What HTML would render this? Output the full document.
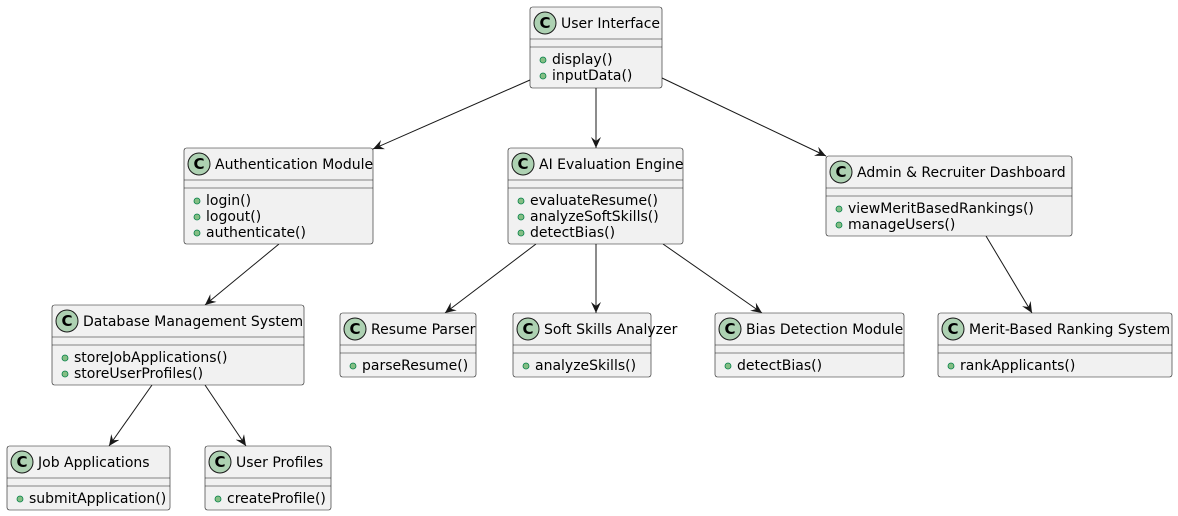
<!DOCTYPE html>
<html><head><meta charset="utf-8"><style>body{margin:0;background:#fff}svg{display:block}text{font-family:"DejaVu Sans","Liberation Sans",sans-serif;font-size:14px;fill:#000}.b{fill:#F1F1F1;stroke:#181818;stroke-width:0.6}.l{stroke:#181818;stroke-width:0.6}.c{fill:#ADD1B2;stroke:#181818;stroke-width:1}.d{fill:#84BE84;stroke:#038048;stroke-width:0.8}.k{font-weight:bold;font-size:15px;text-anchor:middle}</style></head><body>
<svg width="1178" height="516" viewBox="0 0 1178 516" xmlns="http://www.w3.org/2000/svg">
<defs><marker id="a" viewBox="0 0 12 10" refX="11" refY="5" markerWidth="12" markerHeight="10" markerUnits="userSpaceOnUse" orient="auto"><path d="M0,0 L11,5 L0,10 L4,5 Z" fill="#181818"/></marker></defs>
<g stroke="#181818" stroke-width="1" marker-end="url(#a)">
<line x1="530" y1="80" x2="373" y2="149"/>
<line x1="596" y1="88" x2="596" y2="148"/>
<line x1="662" y1="78" x2="826" y2="156"/>
<line x1="279" y1="244" x2="205" y2="305"/>
<line x1="536" y1="244" x2="445" y2="313"/>
<line x1="596" y1="244" x2="596" y2="313"/>
<line x1="663" y1="244" x2="762" y2="313"/>
<line x1="986" y1="236" x2="1032" y2="313"/>
<line x1="152" y1="385" x2="109" y2="446"/>
<line x1="205" y1="385" x2="246" y2="446"/>
</g>

<!-- User Interface -->
<rect class="b" x="530" y="7" width="132" height="81" rx="2.5"/>
<line class="l" x1="530" y1="39" x2="662" y2="39"/><line class="l" x1="530" y1="47" x2="662" y2="47"/>
<circle class="c" cx="545" cy="23" r="11"/><text class="k" x="545" y="28">C</text>
<text x="561" y="28">User Interface</text>
<circle class="d" cx="543" cy="60" r="3"/><text x="552" y="64">display()</text>
<circle class="d" cx="543" cy="76" r="3"/><text x="552" y="80">inputData()</text>

<!-- Authentication -->
<rect class="b" x="184" y="148" width="189" height="96" rx="2.5"/>
<line class="l" x1="184" y1="180" x2="373" y2="180"/><line class="l" x1="184" y1="188" x2="373" y2="188"/>
<circle class="c" cx="199" cy="164" r="11"/><text class="k" x="199" y="169">C</text>
<text x="215" y="169">Authentication Module</text>
<circle class="d" cx="197" cy="201" r="3"/><text x="206" y="205">login()</text>
<circle class="d" cx="197" cy="217" r="3"/><text x="206" y="221">logout()</text>
<circle class="d" cx="197" cy="233" r="3"/><text x="206" y="237">authenticate()</text>

<!-- AI Evaluation -->
<rect class="b" x="508" y="148" width="175" height="96" rx="2.5"/>
<line class="l" x1="508" y1="180" x2="683" y2="180"/><line class="l" x1="508" y1="188" x2="683" y2="188"/>
<circle class="c" cx="523" cy="164" r="11"/><text class="k" x="523" y="169">C</text>
<text x="539" y="169">AI Evaluation Engine</text>
<circle class="d" cx="521" cy="201" r="3"/><text x="530" y="205">evaluateResume()</text>
<circle class="d" cx="521" cy="217" r="3"/><text x="530" y="221">analyzeSoftSkills()</text>
<circle class="d" cx="521" cy="233" r="3"/><text x="530" y="237">detectBias()</text>

<!-- Admin -->
<rect class="b" x="826" y="156" width="246" height="80" rx="2.5"/>
<line class="l" x1="826" y1="188" x2="1072" y2="188"/><line class="l" x1="826" y1="196" x2="1072" y2="196"/>
<circle class="c" cx="841" cy="172" r="11"/><text class="k" x="841" y="177">C</text>
<text x="857" y="177">Admin &amp; Recruiter Dashboard</text>
<circle class="d" cx="839" cy="209" r="3"/><text x="848" y="213">viewMeritBasedRankings()</text>
<circle class="d" cx="839" cy="225" r="3"/><text x="848" y="229">manageUsers()</text>

<!-- DBMS -->
<rect class="b" x="52" y="305" width="252" height="80" rx="2.5"/>
<line class="l" x1="52" y1="337" x2="304" y2="337"/><line class="l" x1="52" y1="345" x2="304" y2="345"/>
<circle class="c" cx="67" cy="321" r="11"/><text class="k" x="67" y="326">C</text>
<text x="83" y="326">Database Management System</text>
<circle class="d" cx="65" cy="358" r="3"/><text x="74" y="362">storeJobApplications()</text>
<circle class="d" cx="65" cy="374" r="3"/><text x="74" y="378">storeUserProfiles()</text>

<!-- Resume Parser -->
<rect class="b" x="340" y="313" width="136" height="64" rx="2.5"/>
<line class="l" x1="340" y1="345" x2="476" y2="345"/><line class="l" x1="340" y1="353" x2="476" y2="353"/>
<circle class="c" cx="355" cy="329" r="11"/><text class="k" x="355" y="334">C</text>
<text x="371" y="334">Resume Parser</text>
<circle class="d" cx="353" cy="366" r="3"/><text x="362" y="370">parseResume()</text>

<!-- Soft Skills -->
<rect class="b" x="513" y="313" width="138" height="64" rx="2.5"/>
<line class="l" x1="513" y1="345" x2="651" y2="345"/><line class="l" x1="513" y1="353" x2="651" y2="353"/>
<circle class="c" cx="528" cy="329" r="11"/><text class="k" x="528" y="334">C</text>
<text x="544" y="334">Soft Skills Analyzer</text>
<circle class="d" cx="526" cy="366" r="3"/><text x="535" y="370">analyzeSkills()</text>

<!-- Bias -->
<rect class="b" x="715" y="313" width="189" height="64" rx="2.5"/>
<line class="l" x1="715" y1="345" x2="904" y2="345"/><line class="l" x1="715" y1="353" x2="904" y2="353"/>
<circle class="c" cx="730" cy="329" r="11"/><text class="k" x="730" y="334">C</text>
<text x="746" y="334">Bias Detection Module</text>
<circle class="d" cx="728" cy="366" r="3"/><text x="737" y="370">detectBias()</text>

<!-- Merit -->
<rect class="b" x="938" y="313" width="234" height="64" rx="2.5"/>
<line class="l" x1="938" y1="345" x2="1172" y2="345"/><line class="l" x1="938" y1="353" x2="1172" y2="353"/>
<circle class="c" cx="953" cy="329" r="11"/><text class="k" x="953" y="334">C</text>
<text x="969" y="334">Merit-Based Ranking System</text>
<circle class="d" cx="951" cy="366" r="3"/><text x="960" y="370">rankApplicants()</text>

<!-- Job Applications -->
<rect class="b" x="7" y="446" width="163" height="64" rx="2.5"/>
<line class="l" x1="7" y1="478" x2="170" y2="478"/><line class="l" x1="7" y1="486" x2="170" y2="486"/>
<circle class="c" cx="22" cy="462" r="11"/><text class="k" x="22" y="467">C</text>
<text x="38" y="467">Job Applications</text>
<circle class="d" cx="20" cy="499" r="3"/><text x="29" y="503">submitApplication()</text>

<!-- User Profiles -->
<rect class="b" x="205" y="446" width="126" height="64" rx="2.5"/>
<line class="l" x1="205" y1="478" x2="331" y2="478"/><line class="l" x1="205" y1="486" x2="331" y2="486"/>
<circle class="c" cx="220" cy="462" r="11"/><text class="k" x="220" y="467">C</text>
<text x="236" y="467">User Profiles</text>
<circle class="d" cx="218" cy="499" r="3"/><text x="227" y="503">createProfile()</text>
</svg></body></html>
